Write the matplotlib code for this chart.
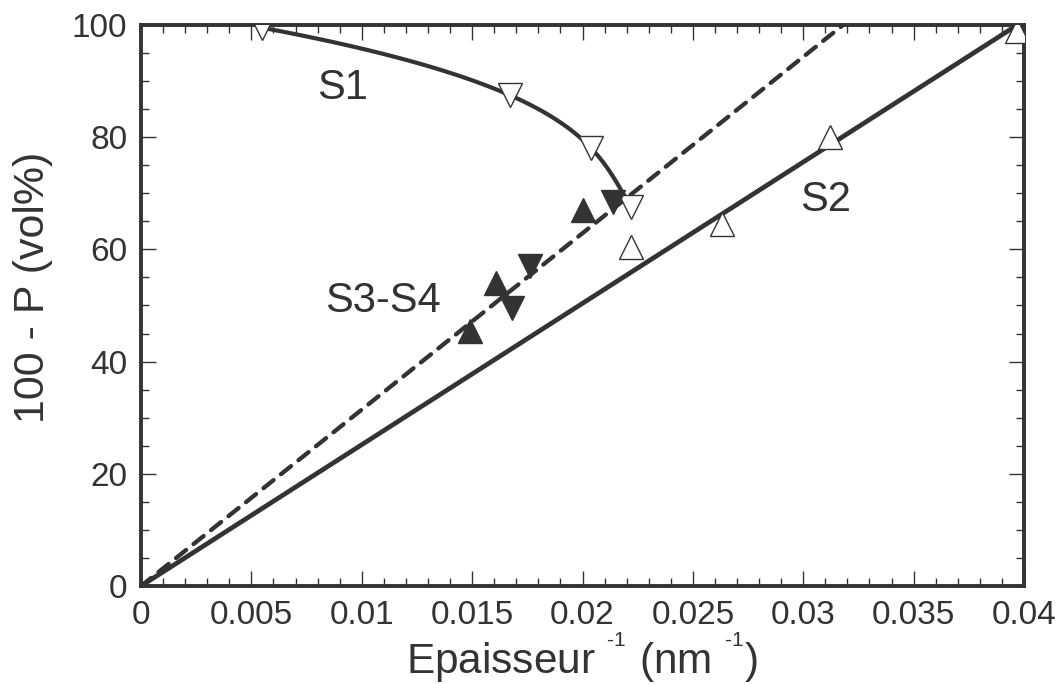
import numpy as np
import matplotlib
matplotlib.use("Agg")
import matplotlib.pyplot as plt

plt.rcParams['font.family'] = ['Liberation Sans', 'DejaVu Sans']
plt.rcParams['mathtext.fontset'] = 'custom'
plt.rcParams['mathtext.rm'] = 'Liberation Sans'
plt.rcParams['mathtext.default'] = 'regular'

ink = '#333333'

# S1: open down triangles
s1_x = [0.0055, 0.0167, 0.0204, 0.0222]
s1_y = [99.5, 87.5, 78.0, 67.5]
# S2: open up triangles
s2_x = [0.0222, 0.0263, 0.0312, 0.0397]
s2_y = [60.5, 64.5, 80.0, 99.0]
# S3-S4: filled up / down triangles
s3_x = [0.0149, 0.0161, 0.0200]
s3_y = [45.5, 54.0, 67.0]
s4_x = [0.0168, 0.0176, 0.0214]
s4_y = [49.5, 57.0, 68.5]

# straight lines through the origin (slopes)
s2_slope = 2519
s34_slope = 3144

fig = plt.figure(figsize=(10.63, 6.84), dpi=100)
ax = fig.add_axes([0.1327, 0.1433, 0.8306, 0.8202])

# S1 curve: cubic fit of x against y
coef = np.polyfit(s1_y, s1_x, 3)
yy = np.linspace(s1_y[0], 68.7, 100)
ax.plot(np.polyval(coef, yy), yy, color=ink, lw=3.0, zorder=2)

xx = np.array([0, 0.04])
ax.plot(xx, s2_slope * xx, color=ink, lw=3.4, zorder=2)
ax.plot(xx, s34_slope * xx, color=ink, lw=3.1, ls=(0, (3, 2.2)),
        dash_capstyle='round', zorder=2)

ax.plot(s1_x, s1_y, 'v', ms=17, mfc='white', mec=ink, mew=1.0, ls='none', zorder=3)
ax.plot(s2_x, s2_y, '^', ms=17, mfc='white', mec=ink, mew=1.0, ls='none', zorder=3)
ax.plot(s3_x, s3_y, '^', ms=17, color=ink, ls='none', zorder=3)
ax.plot(s4_x, s4_y, 'v', ms=17, color=ink, ls='none', zorder=3)

ax.text(0.00915, 88.8, 'S1', fontsize=30, color=ink, ha='center', va='center')
ax.text(0.0310, 68.8, 'S2', fontsize=30, color=ink, ha='center', va='center')
ax.text(0.01097, 50.8, 'S3-S4', fontsize=30, color=ink, ha='center', va='center')

ax.set_xlim(0, 0.04)
ax.set_ylim(0, 100)
ax.set_xticks(np.arange(0, 0.0401, 0.005))
ax.set_xticklabels(['0', '0.005', '0.01', '0.015', '0.02', '0.025', '0.03', '0.035', '0.04'])
ax.set_xticks(np.arange(0, 0.0401, 0.001), minor=True)
ax.set_yticks(np.arange(0, 101, 20))
ax.set_yticks(np.arange(0, 101, 5), minor=True)

ax.tick_params(which='both', direction='in', top=True, right=True, color=ink,
               labelcolor=ink, labelsize=24, width=1.0)
ax.tick_params(which='major', length=11, pad=10)
ax.tick_params(which='minor', length=6)
for s in ax.spines.values():
    s.set_linewidth(2.8)
    s.set_color(ink)

ax.set_xlabel(r'Epaisseur ${}^{{}^{\text{-1}}}$ (nm ${}^{{}^{\text{-1}}}$)',
              fontsize=30.5, color=ink, labelpad=0)
ax.set_ylabel('100 - P (vol%)', fontsize=31, color=ink)
ax.yaxis.set_label_coords(-0.1, 0.533)

fig.savefig('out.png', dpi=100)
